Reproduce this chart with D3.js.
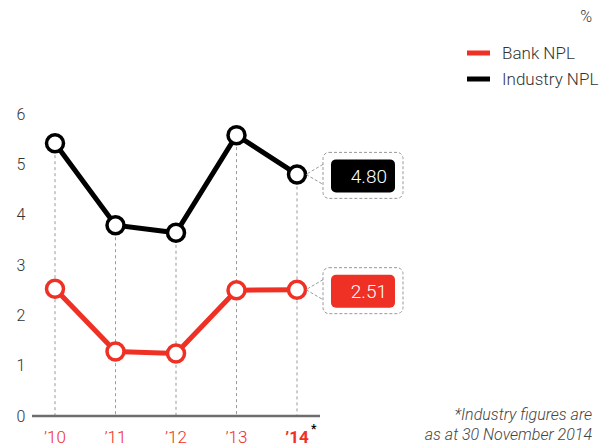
<!DOCTYPE html>
<html>
<head>
<meta charset="utf-8">
<script src="https://cdn.jsdelivr.net/npm/d3@7"></script>
<style>
  body { margin: 0; background: #fff; }
  svg { font-family: Roboto, "Liberation Sans", Arial, sans-serif; font-weight: 300; }
</style>
</head>
<body>
<div id="chart"></div>
<script>
// data
var years = ["’10", "’11", "’12", "’13", "’14"];
var bankNpl = [2.53, 1.28, 1.24, 2.5, 2.51];
var industryNpl = [5.42, 3.79, 3.64, 5.58, 4.80];
var yTicks = [0, 1, 2, 3, 4, 5, 6];
var seriesNames = ["Bank NPL", "Industry NPL"];
var seriesColors = ["#ee3124", "#000000"];

var width = 604, height = 446;
var svg = d3.select("#chart").append("svg")
    .attr("width", width)
    .attr("height", height);

const xScale = d3.scalePoint()
    .domain(years)
    .range([55, 297]);
const yScale = d3.scaleLinear()
    .domain([0, 6])
    .range([416, 114]);

// y tick labels
svg.append("g").selectAll("text")
    .data(yTicks)
    .enter().append("text")
    .attr("x", 21)
    .attr("y", d => yScale(d))
    .attr("dy", "0.36em")
    .attr("text-anchor", "middle")
    .attr("font-size", 16)
    .attr("fill", "#333")
    .text(d => d);

// dashed drop lines
var topVals = years.map((y, i) => Math.max(bankNpl[i], industryNpl[i]));
svg.append("g").selectAll("line")
    .data(years)
    .enter().append("line")
    .attr("x1", d => xScale(d))
    .attr("x2", d => xScale(d))
    .attr("y1", (d, i) => yScale(topVals[i]))
    .attr("y2", yScale(0))
    .attr("stroke", "#999")
    .attr("stroke-width", 1)
    .attr("stroke-dasharray", "3,3");

// x axis baseline
svg.append("line")
    .attr("x1", 32).attr("x2", 320)
    .attr("y1", yScale(0)).attr("y2", yScale(0))
    .attr("stroke", "#6d6d6d")
    .attr("stroke-width", 2.5);

// x labels
svg.append("g").selectAll("text")
    .data(years)
    .enter().append("text")
    .attr("x", d => xScale(d))
    .attr("y", 443)
    .attr("text-anchor", "middle")
    .attr("font-size", 17)
    .attr("font-weight", (d, i) => i == years.length - 1 ? "bold" : 300)
    .attr("fill", "#ee3124")
    .text(d => d);
svg.append("text")
    .attr("x", xScale(years[4]) + 14)
    .attr("y", 433)
    .attr("font-size", 12)
    .attr("font-weight", "bold")
    .attr("fill", "#000")
    .text("*");

// lines + markers
var line = d3.line()
    .x((d, i) => xScale(years[i]))
    .y(d => yScale(d));

[bankNpl, industryNpl].forEach(function(vals, k) {
  svg.append("path")
      .datum(vals)
      .attr("d", line)
      .attr("fill", "none")
      .attr("stroke", seriesColors[k])
      .attr("stroke-width", 5);
  svg.append("g").selectAll("circle")
      .data(vals)
      .enter().append("circle")
      .attr("cx", (d, i) => xScale(years[i]))
      .attr("cy", d => yScale(d))
      .attr("r", 8.5)
      .attr("fill", "#fff")
      .attr("stroke", seriesColors[k])
      .attr("stroke-width", 3.5);
});

// callouts for latest values
var last = years.length - 1;
[bankNpl, industryNpl].forEach(function(vals, k) {
  var cx = xScale(years[last]), cy = yScale(vals[last]);
  var bx = 323, by = cy - 22;
  var g = svg.append("g");
  g.append("path")
      .attr("d", `M${bx},${cy - 10} L${cx + 9},${cy} L${bx},${cy + 10}`)
      .attr("fill", "none")
      .attr("stroke", "#999")
      .attr("stroke-width", 1)
      .attr("stroke-dasharray", "3,2");
  g.append("rect")
      .attr("x", bx).attr("y", by)
      .attr("width", 80).attr("height", 46)
      .attr("rx", 6)
      .attr("fill", "none")
      .attr("stroke", "#999")
      .attr("stroke-width", 1)
      .attr("stroke-dasharray", "3,2");
  g.append("rect")
      .attr("x", bx + 8).attr("y", by + 7)
      .attr("width", 64).attr("height", 33)
      .attr("rx", 5)
      .attr("fill", seriesColors[k]);
  g.append("text")
      .attr("x", bx + 64)
      .attr("y", by + 23.5)
      .attr("dy", "0.36em")
      .attr("text-anchor", "end")
      .attr("font-size", 19)
      .attr("fill", "#fff")
      .text(vals[last].toFixed(2));
});

// legend
svg.append("text")
    .attr("x", 592).attr("y", 22)
    .attr("text-anchor", "end")
    .attr("font-size", 16)
    .attr("fill", "#333")
    .text("%");
var leg = svg.append("g").selectAll("g")
    .data(seriesNames)
    .enter().append("g")
    .attr("transform", (d, i) => `translate(467, ${53 + i * 26})`);
leg.append("line")
    .attr("x1", 0).attr("x2", 23)
    .attr("stroke", (d, i) => seriesColors[i])
    .attr("stroke-width", 5);
leg.append("text")
    .attr("x", 35)
    .attr("dy", "0.36em")
    .attr("font-size", 17)
    .attr("fill", "#333")
    .text(d => d);

// footnote
svg.append("g").selectAll("text")
    .data(["*Industry figures are", "as at 30 November 2014"])
    .enter().append("text")
    .attr("x", 592)
    .attr("y", (d, i) => 420 + i * 20)
    .attr("text-anchor", "end")
    .attr("font-size", 16)
    .attr("font-style", "italic")
    .attr("fill", "#444")
    .text(d => d);
</script>
</body>
</html>
